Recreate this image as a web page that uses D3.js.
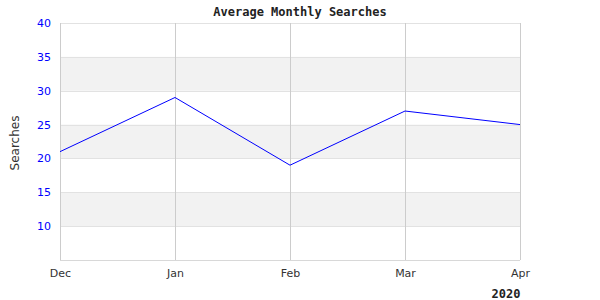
<!DOCTYPE html>
<html>
<head>
<script src="https://cdn.jsdelivr.net/npm/d3@7"></script>
<style>
    body { margin: 0; background: #fff; }
</style>
</head>
<body>
<div id="chart"></div>
<script>
    // data
    var months = ["Dec", "Jan", "Feb", "Mar", "Apr"];
    var searches = [21, 29, 19, 27, 25];
    var yTicks = [10, 15, 20, 25, 30, 35, 40];
    var bands = [[10, 15], [20, 25], [30, 35]];

    var margin = { top: 23, right: 80, bottom: 40, left: 60 };
    var width = 600 - margin.left - margin.right;
    var height = 300 - margin.top - margin.bottom;

    var svg = d3.select("#chart").append("svg")
        .attr("width", 600).attr("height", 300);
    var g = svg.append("g")
        .attr("transform", "translate(" + margin.left + "," + margin.top + ")");

    var x = d3.scalePoint().domain(months).range([0, width]);
    var y = d3.scaleLinear().domain([5, 40]).range([height, 0]);

    // alternating bands
    g.selectAll(".band").data(bands).enter().append("rect")
        .attr("x", 0).attr("width", width)
        .attr("y", function (d) { return y(d[1]); })
        .attr("height", function (d) { return y(d[0]) - y(d[1]); })
        .attr("fill", "#f2f2f2");

    // horizontal grid
    g.selectAll(".hgrid").data(yTicks).enter().append("line")
        .attr("x1", 0).attr("x2", width)
        .attr("y1", function (d) { return Math.round(y(d)) + 0.5; })
        .attr("y2", function (d) { return Math.round(y(d)) + 0.5; })
        .attr("stroke", "#e2e2e2");

    // vertical grid
    g.selectAll(".vgrid").data(months).enter().append("line")
        .attr("x1", function (d) { return Math.round(x(d)) + 0.5; })
        .attr("x2", function (d) { return Math.round(x(d)) + 0.5; })
        .attr("y1", 0).attr("y2", height)
        .attr("stroke", "#cccccc");

    // bottom border
    g.append("line")
        .attr("x1", 0).attr("x2", width)
        .attr("y1", height + 0.5).attr("y2", height + 0.5)
        .attr("stroke", "#d8d8d8");

    // y axis labels
    var yAxis = g.append("g")
        .call(d3.axisLeft(y).tickValues(yTicks).tickSize(0).tickPadding(9));
    yAxis.select(".domain").remove();
    yAxis.selectAll("text")
        .attr("fill", "#0000ff")
        .style("font-family", "DejaVu Sans")
        .style("font-size", "11px");

    // x axis labels
    var xAxis = g.append("g")
        .attr("transform", "translate(0," + height + ")")
        .call(d3.axisBottom(x).tickSize(0).tickPadding(9));
    xAxis.select(".domain").remove();
    xAxis.selectAll("text")
        .attr("fill", "#333")
        .style("font-family", "DejaVu Sans")
        .style("font-size", "11px");

    // the line
    var line = d3.line()
        .x(function (d, i) { return x(months[i]); })
        .y(function (d) { return y(d); });
    g.append("path")
        .datum(searches)
        .attr("d", line)
        .attr("fill", "none")
        .attr("stroke", "#0000ff")
        .attr("stroke-width", 1);

    // title
    svg.append("text")
        .attr("x", 300).attr("y", 16)
        .attr("text-anchor", "middle")
        .style("font-family", "DejaVu Sans Mono")
        .style("font-weight", "bold")
        .style("font-size", "12px")
        .attr("fill", "#222")
        .text("Average Monthly Searches");

    // y label
    svg.append("text")
        .attr("transform", "translate(19," + (margin.top + 120) + ") rotate(-90)")
        .attr("text-anchor", "middle")
        .style("font-family", "DejaVu Sans")
        .style("font-size", "12px")
        .attr("fill", "#333")
        .text("Searches");

    // year label
    svg.append("text")
        .attr("x", 506).attr("y", 298)
        .attr("text-anchor", "middle")
        .style("font-family", "DejaVu Sans Mono")
        .style("font-weight", "bold")
        .style("font-size", "12px")
        .attr("fill", "#222")
        .text("2020");
</script>
</body>
</html>
